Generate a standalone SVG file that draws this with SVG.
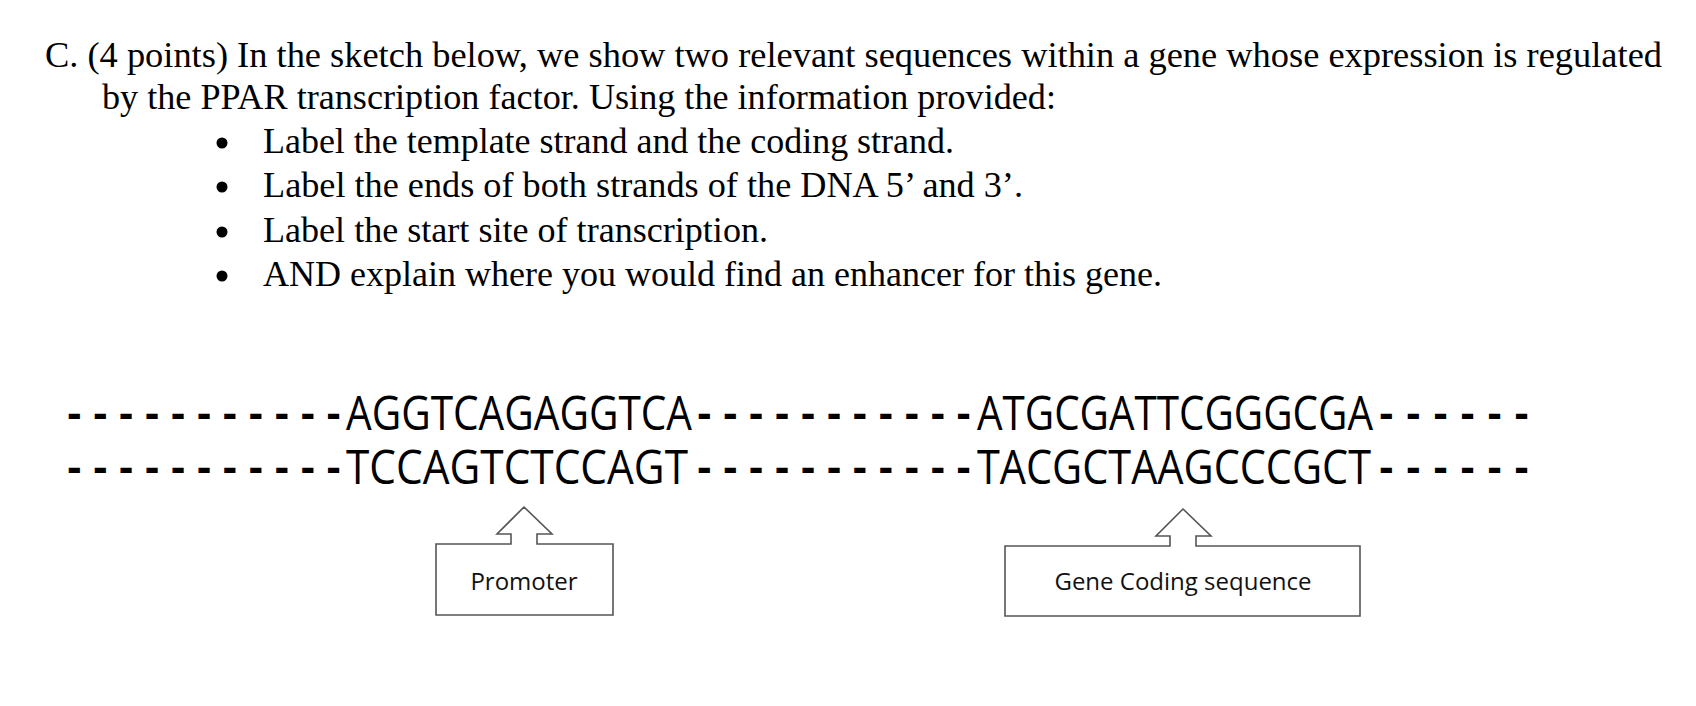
<svg xmlns="http://www.w3.org/2000/svg" width="1696" height="706" viewBox="0 0 1696 706">
<style>
.q{font-family:"Liberation Serif","Times New Roman",serif;font-size:35px;fill:#000}
.s{font-family:"Open Sans","Liberation Sans",sans-serif;font-size:47px;fill:#000}
.d{font-family:"Liberation Sans",sans-serif;font-size:44px;font-weight:bold;fill:#000}
.l{font-family:"Open Sans","Liberation Sans",sans-serif;font-size:24px;fill:#111;text-anchor:middle}
.b{fill:#fff;stroke:#555;stroke-width:1.6}
</style>
<rect width="1696" height="706" fill="#fff"/>
<g id="question">
<text class="q" x="45" y="67" textLength="1617" lengthAdjust="spacingAndGlyphs">C.  (4 points) In the sketch below, we show two relevant sequences within a gene whose expression is regulated</text>
<text class="q" x="102" y="109" textLength="954" lengthAdjust="spacingAndGlyphs">by the PPAR transcription factor. Using the information provided:</text>
<circle cx="222" cy="143" r="5.5"/><text class="q" x="263" y="153" textLength="691" lengthAdjust="spacingAndGlyphs">Label the template strand and the coding strand.</text>
<circle cx="222" cy="187" r="5.5"/><text class="q" x="263" y="197" textLength="760" lengthAdjust="spacingAndGlyphs">Label the ends of both strands of the DNA 5’ and 3’.</text>
<circle cx="222" cy="232" r="5.5"/><text class="q" x="263" y="242" textLength="505" lengthAdjust="spacingAndGlyphs">Label the start site of transcription.</text>
<circle cx="222" cy="276" r="5.5"/><text class="q" x="263" y="286" textLength="899" lengthAdjust="spacingAndGlyphs">AND explain where you would find an enhancer for this gene.</text>
</g>
<g id="sequences">
<text class="d" x="67" y="428" textLength="274" lengthAdjust="spacing">-----------</text>
<text class="s" x="346" y="430" textLength="346" lengthAdjust="spacingAndGlyphs">AGGTCAGAGGTCA</text>
<text class="d" x="697" y="428" textLength="274" lengthAdjust="spacing">-----------</text>
<text class="s" x="977" y="430" textLength="396" lengthAdjust="spacingAndGlyphs">ATGCGATTCGGGCGA</text>
<text class="d" x="1379" y="428" textLength="150" lengthAdjust="spacing">------</text>
<text class="d" x="67" y="482" textLength="274" lengthAdjust="spacing">-----------</text>
<text class="s" x="346" y="484" textLength="342" lengthAdjust="spacingAndGlyphs">TCCAGTCTCCAGT</text>
<text class="d" x="697" y="482" textLength="274" lengthAdjust="spacing">-----------</text>
<text class="s" x="977" y="484" textLength="394" lengthAdjust="spacingAndGlyphs">TACGCTAAGCCCGCT</text>
<text class="d" x="1379" y="482" textLength="150" lengthAdjust="spacing">------</text>
</g>
<g id="promoter">
<path class="b" d="M436,544 H511 V534 H497 L524,507 L552,534 H537 V544 H613 V615 H436 Z"/>
<text class="l" x="524" y="590">Promoter</text>
</g>
<g id="coding">
<path class="b" d="M1005,546 H1170 V536 H1156 L1183,509 L1211,536 H1196 V546 H1360 V616 H1005 Z"/>
<text class="l" x="1183" y="590">Gene Coding sequence</text>
</g>
<g id="connectors"/>
</svg>
